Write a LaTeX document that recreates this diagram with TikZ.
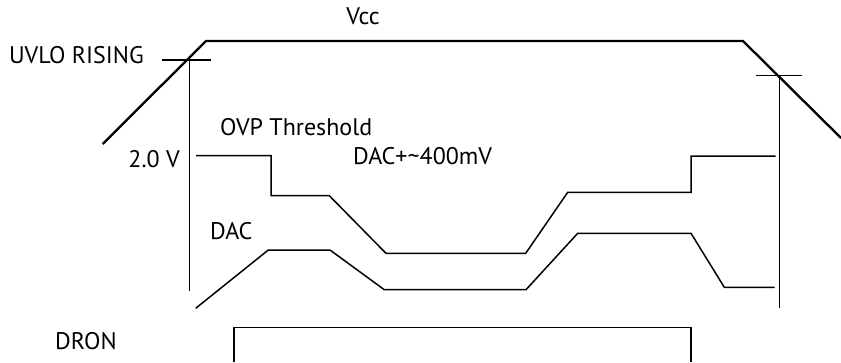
\documentclass[tikz,border=0pt]{standalone}
\usepackage{fontspec}
\setmainfont{PT Sans}
\begin{document}
\begin{tikzpicture}[x=1pt,y=-1pt,
  wave/.style={line width=1.5pt,line join=miter},
  vccwave/.style={line width=2.3pt,line join=miter},
  tick/.style={line width=1.5pt},
  lbl/.style={inner sep=0pt,font=\fontsize{24}{28}\selectfont}]
\useasboundingbox (0,0) rectangle (841,362);
% Vcc
\draw[vccwave] (102.7,144) -- (206,41) -- (743,41) -- (841,138);
\node[lbl] (vcc) at (363,16) {Vcc};
% UVLO rising markers
\draw[tick] (162,60) -- (211,60);
\draw[tick] (189.5,60) -- (189.5,291);
\draw[tick] (756,75.7) -- (802,75.7);
\draw[tick] (779.3,75.7) -- (779.3,308);
\node[lbl,anchor=east] (uvlo) at (144,55) {UVLO RISING};
% OVP threshold
\draw[wave] (196,155.7) -- (271,155.7) -- (271,195.7) -- (329.3,195.7) -- (386,253.3)
  -- (525.7,253.3) -- (567.7,192.3) -- (691,192.3) -- (691,156) -- (775.7,156);
\node[lbl,anchor=west] (ovp) at (220,127) {OVP Threshold};
\node[lbl,anchor=east] (v20) at (180,159.5) {2.0 V};
\node[lbl,anchor=west] (dac4) at (353,156) {DAC+\textasciitilde400mV};
% DAC
\draw[wave] (195.7,308.3) -- (268.3,250) -- (330,250) -- (384.3,289.7) -- (526,289.7)
  -- (577.7,233.3) -- (691,233.3) -- (724.3,287.3) -- (774.7,287.3);
\node[lbl,anchor=west] (dac) at (210,231) {DAC};
% DRON
\draw[wave] (234,362) -- (234,327.5) -- (691,327.5) -- (691,362);
\node[lbl,anchor=west] (dron) at (55,341) {DRON};
\end{tikzpicture}
\end{document}
